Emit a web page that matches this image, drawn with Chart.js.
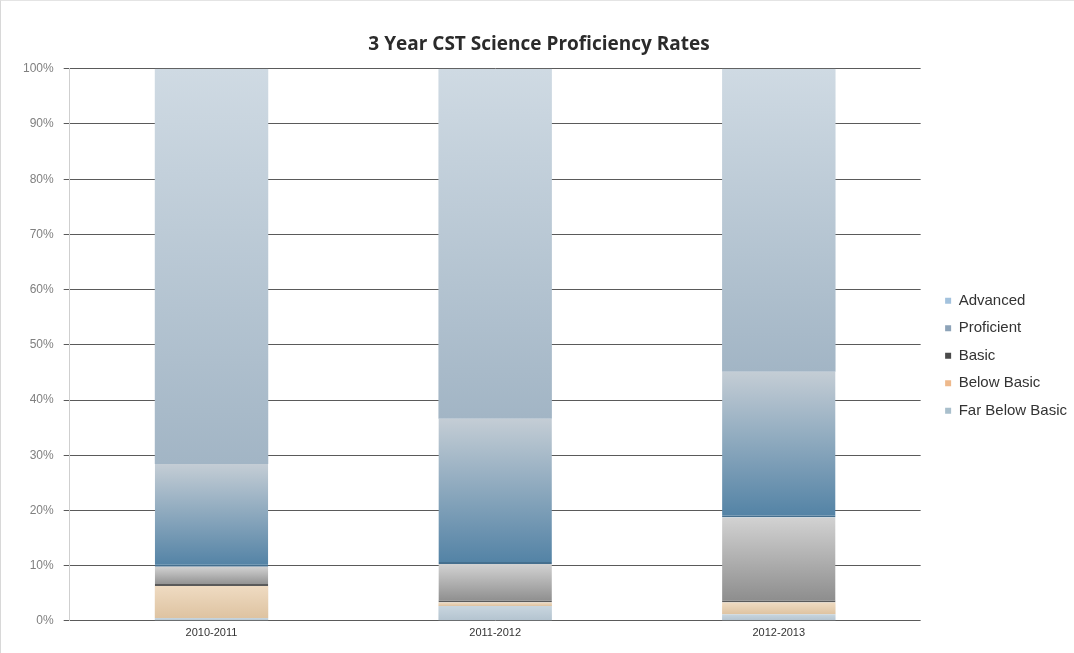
<!DOCTYPE html>
<html>
<head>
<meta charset="utf-8">
<script src="https://cdn.jsdelivr.net/npm/chart.js@4/dist/chart.umd.min.js"></script>
<style>
  html, body { margin: 0; padding: 0; background: #fff; }
  #wrap { position: relative; width: 1074px; height: 653px; box-sizing: border-box; border-left: 1px solid #d8d8d8; border-top: 1px solid #e4e4e4; }
</style>
</head>
<body>
<div id="wrap"><canvas id="chart"></canvas></div>
<script>
const years = ['2010-2011', '2011-2012', '2012-2013'];
const farBelowBasic = [0.5, 2.7, 1.2];
const belowBasic = [5.8, 0.6, 2.1];
const basic = [3.5, 7.0, 15.4];
const proficient = [18.6, 26.3, 26.4];
const advanced = [71.6, 63.4, 54.9];
const yTicks = [0, 10, 20, 30, 40, 50, 60, 70, 80, 90, 100];

// gradient per bar segment: light on top, darker at the bottom
function fillFor(top, bottom, legendColor) {
  return ctx => {
    const chart = ctx.chart;
    const y = chart.scales.y;
    if (ctx.dataIndex === undefined || !y || !chart.chartArea) return legendColor;
    let start = 0;
    for (let d = 0; d < ctx.datasetIndex; d++) start += chart.data.datasets[d].data[ctx.dataIndex];
    const end = start + chart.data.datasets[ctx.datasetIndex].data[ctx.dataIndex];
    const g = chart.ctx.createLinearGradient(0, y.getPixelForValue(end), 0, y.getPixelForValue(start));
    g.addColorStop(0, top);
    g.addColorStop(1, bottom);
    return g;
  };
}

const legendColors = ['#a9bfcc', '#eeb98c', '#4a4a4a', '#8da3b8', '#a3c2dd'];

const datasets = [
  { label: 'Far Below Basic', data: farBelowBasic, backgroundColor: fillFor('#c9d6df', '#b3c3cf', legendColors[0]) },
  { label: 'Below Basic', data: belowBasic, backgroundColor: fillFor('#efdbc2', '#dec3a1', legendColors[1]) },
  { label: 'Basic', data: basic, backgroundColor: fillFor('#d2d2d2', '#8c8c8c', legendColors[2]),
    borderColor: '#5a5a5a', borderWidth: { bottom: 2, top: 0, left: 0, right: 0 }, borderSkipped: false },
  { label: 'Proficient', data: proficient, backgroundColor: fillFor('#c4cdd5', '#5282a5', legendColors[3]),
    borderColor: '#456f8e', borderWidth: { bottom: 2, top: 0, left: 0, right: 0 }, borderSkipped: false },
  { label: 'Advanced', data: advanced, backgroundColor: fillFor('#cfdae3', '#a2b5c5', legendColors[4]) }
];

// nudge the legend a bit to the right of its box, like the original
const legendNudge = {
  id: 'legendNudge',
  afterLayout(chart) {
    chart.legend.left += 12;
    chart.legend.right += 12;
  }
};

new Chart(document.getElementById('chart'), {
  type: 'bar',
  data: { labels: years, datasets },
  plugins: [legendNudge],
  options: {
    responsive: true,
    maintainAspectRatio: false,
    animation: false,
    layout: { padding: { left: 12, right: 9, top: 32, bottom: 11 } },
    datasets: { bar: { categoryPercentage: 1, barPercentage: 0.4 } },
    plugins: {
      title: {
        display: true,
        text: '3 Year CST Science Proficiency Rates',
        color: '#2b2b2b',
        font: { family: 'Open Sans', size: 19, weight: 'bold' },
        padding: { top: 0, bottom: 13 }
      },
      legend: {
        position: 'right',
        reverse: true,
        align: 'center',
        title: { display: true, text: '', padding: 11, font: { size: 12 } },
        labels: {
          boxWidth: 6,
          boxHeight: 6,
          padding: 12.5,
          color: '#333',
          font: { family: 'Liberation Sans', size: 15 },
          generateLabels: chart => Chart.defaults.plugins.legend.labels.generateLabels(chart)
            .map(l => ({ ...l, fillStyle: legendColors[l.datasetIndex], lineWidth: 0, strokeStyle: 'rgba(0,0,0,0)' }))
        }
      },
      tooltip: { enabled: false }
    },
    scales: {
      x: {
        stacked: true,
        grid: { display: false, tickLength: 4 },
        border: { display: false },
        ticks: { color: '#333', font: { family: 'Liberation Sans', size: 11 }, padding: 2 }
      },
      y: {
        stacked: true,
        min: 0,
        max: 100,
        afterBuildTicks: axis => { axis.ticks = yTicks.map(v => ({ value: v })); },
        grid: { color: '#5a5a5a', lineWidth: 1, tickLength: 6 },
        border: { display: true, color: '#cfcfcf' },
        ticks: {
          color: '#808080',
          font: { family: 'Liberation Sans', size: 12 },
          padding: 10,
          callback: v => v + '%'
        }
      }
    }
  }
});
</script>
</body>
</html>
